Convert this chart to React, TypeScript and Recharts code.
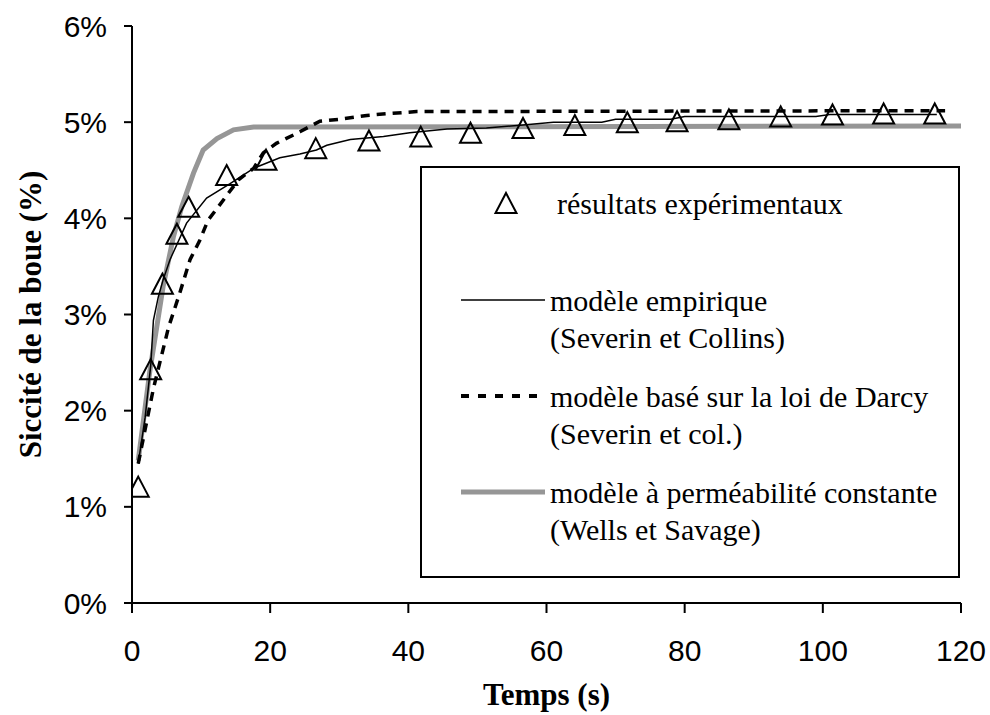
import { ComposedChart, Line, Scatter, XAxis, YAxis, Legend, Label } from 'recharts';

// résultats expérimentaux
const expTime = [0.9, 2.7, 4.4, 6.5, 8.2, 13.7, 19.4, 26.6, 34.3, 41.8, 49.0, 56.6, 64.1, 71.7, 78.9, 86.4, 93.9, 101.4, 108.8, 116.2];
const expSiccite = [1.21, 2.43, 3.32, 3.84, 4.12, 4.45, 4.61, 4.73, 4.81, 4.85, 4.89, 4.94, 4.97, 5.0, 5.01, 5.03, 5.06, 5.08, 5.09, 5.09];

// modèle empirique (Severin et Collins)
const empTime = [0.9, 1.9, 2.7, 3.1, 3.8, 4.5, 5.5, 7.9, 10.8, 14.2, 17.6, 21.4, 24.3, 26.7, 28.2, 31.6, 36.4, 40.2, 45.6, 51.3, 56.6, 61, 68, 70, 78, 80, 99, 101, 116.5];
const empSiccite = [1.45, 1.93, 2.46, 2.94, 3.18, 3.36, 3.57, 3.95, 4.21, 4.36, 4.52, 4.63, 4.67, 4.71, 4.76, 4.82, 4.85, 4.89, 4.93, 4.94, 4.97, 5.0, 5.0, 5.03, 5.03, 5.06, 5.06, 5.08, 5.08];

// modèle basé sur la loi de Darcy (Severin et col.)
const darcyTime = [0.9, 3.1, 5.3, 6.9, 8.4, 9.8, 11.0, 12.7, 15.4, 17.6, 19.0, 20.9, 24.3, 27.2, 30.1, 34.0, 37.3, 41.2, 117.7];
const darcySiccite = [1.45, 2.23, 2.87, 3.22, 3.57, 3.77, 3.98, 4.14, 4.40, 4.52, 4.68, 4.78, 4.90, 5.01, 5.03, 5.07, 5.09, 5.11, 5.12];

// modèle à perméabilité constante (Wells et Savage)
const wsTime = [0.9, 2.6, 4.5, 6.0, 7.2, 8.9, 10.3, 12.3, 14.7, 17.6, 120];
const wsSiccite = [1.48, 2.42, 3.29, 3.81, 4.12, 4.47, 4.71, 4.83, 4.92, 4.95, 4.96];

const xTicks = [0, 20, 40, 60, 80, 100, 120];
const yTicks = [0, 1, 2, 3, 4, 5, 6];

const legendLines = [
  ['modèle empirique', '(Severin et Collins)'],
  ['modèle basé sur la loi de Darcy', '(Severin et col.)'],
  ['modèle à perméabilité constante', '(Wells et Savage)'],
];
const legendExp = 'résultats expérimentaux';

const zip = (ts: number[], vs: number[]) => ts.map((t, i) => ({ t, v: vs[i] }));

const expData = zip(expTime, expSiccite);
const empData = zip(empTime, empSiccite);
const darcyData = zip(darcyTime, darcySiccite);
const wsData = zip(wsTime, wsSiccite);

const SERIF = '"Liberation Serif", "Times New Roman", serif';
const SANS = '"Liberation Sans", Arial, sans-serif';

const Triangle = (props: any) => {
  const { cx, cy } = props;
  if (cx == null || cy == null) return null;
  return (
    <polygon
      points={`${cx},${cy - 10} ${cx + 10.5},${cy + 10} ${cx - 10.5},${cy + 10}`}
      fill="none"
      stroke="#000"
      strokeWidth={2}
    />
  );
};

function ChartLegend() {
  const styles = [
    { stroke: '#000', strokeWidth: 1.5, dash: undefined },
    { stroke: '#000', strokeWidth: 4, dash: '8 9' },
    { stroke: '#969696', strokeWidth: 5, dash: undefined },
  ];
  return (
    <svg width={540} height={412} style={{ display: 'block' }}>
      <rect x={1} y={1} width={538} height={410} fill="#fff" stroke="#000" strokeWidth={2} />
      <Triangle cx={86} cy={37} />
      <text x={137} y={37} fontFamily={SERIF} fontSize={30} dominantBaseline="central">{legendExp}</text>
      {legendLines.map((rows, i) => {
        const y = 134 + i * 96;
        const s = styles[i];
        return (
          <g key={i}>
            <line x1={41} x2={125} y1={y} y2={y} stroke={s.stroke} strokeWidth={s.strokeWidth} strokeDasharray={s.dash} />
            <text x={130} y={y} fontFamily={SERIF} fontSize={30} dominantBaseline="central">{rows[0]}</text>
            <text x={130} y={y + 37} fontFamily={SERIF} fontSize={30} dominantBaseline="central">{rows[1]}</text>
          </g>
        );
      })}
    </svg>
  );
}

export default function App() {
  const tickStyle = { fontSize: 30, fill: '#000', fontFamily: SANS };
  return (
    <div style={{ position: 'absolute', left: 0, top: 0, width: 990, height: 715, background: '#fff' }}>
      <ComposedChart width={990} height={715} margin={{ top: 26, right: 29, bottom: 0, left: 0 }}>
        <XAxis
          dataKey="t"
          type="number"
          domain={[0, 120]}
          ticks={xTicks}
          allowDataOverflow
          height={112}
          tick={tickStyle}
          tickSize={10}
          tickMargin={27}
          axisLine={{ stroke: '#000', strokeWidth: 2 }}
          tickLine={{ stroke: '#000', strokeWidth: 2 }}
        >
          <Label value="Temps (s)" position="insideBottom" offset={10} style={{ fontFamily: SERIF, fontSize: 31, fontWeight: 'bold', fill: '#000' }} />
        </XAxis>
        <YAxis
          type="number"
          domain={[0, 6]}
          ticks={yTicks}
          width={132}
          tick={tickStyle}
          tickFormatter={(v: number) => `${v}%`}
          tickSize={8}
          tickMargin={17}
          axisLine={{ stroke: '#000', strokeWidth: 2 }}
          tickLine={{ stroke: '#000', strokeWidth: 2 }}
        >
          <Label
            value="Siccité de la boue (%)"
            angle={-90}
            position="insideLeft"
            offset={30}
            style={{ textAnchor: 'middle', fontFamily: SERIF, fontSize: 31, fontWeight: 'bold', fill: '#000' }}
          />
        </YAxis>
        <Legend
          layout="horizontal"
          verticalAlign="middle"
          align="center"
          wrapperStyle={{ left: 420, top: 166, width: 540, height: 412 }}
          content={() => <ChartLegend />}
        />
        <Line data={wsData} dataKey="v" type="linear" stroke="#969696" strokeWidth={5} dot={false} activeDot={false} isAnimationActive={false} />
        <Line data={darcyData} dataKey="v" type="linear" stroke="#000" strokeWidth={3.5} strokeDasharray="9 7" dot={false} activeDot={false} isAnimationActive={false} />
        <Line data={empData} dataKey="v" type="linear" stroke="#000" strokeWidth={1.5} dot={false} activeDot={false} isAnimationActive={false} />
        <Scatter data={expData} dataKey="v" shape={<Triangle />} isAnimationActive={false} />
      </ComposedChart>
    </div>
  );
}
